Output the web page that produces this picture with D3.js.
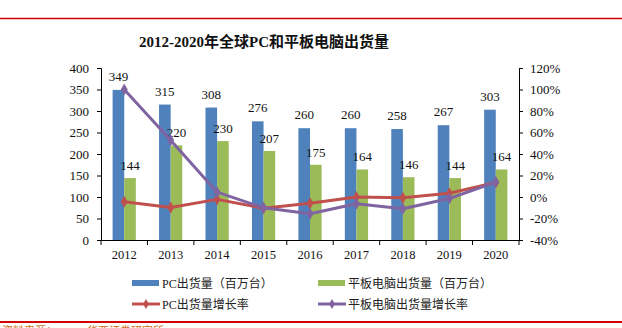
<!DOCTYPE html>
<html><head><meta charset="utf-8">
<script src="https://cdn.jsdelivr.net/npm/d3@7"></script>
<style>
body{margin:0;background:#fff;}
svg{display:block;}
</style></head>
<body>
<svg id="c" width="622" height="328"></svg>
<script>
const years = ["2012","2013","2014","2015","2016","2017","2018","2019","2020"];
const pcShip = [349,315,308,276,260,260,258,267,303];
const tabShip = [144,220,230,207,175,164,146,144,164];
const pcGrowth = [-4.4,-9.7,-2.2,-10.4,-5.8,0,-0.8,3.5,13.5];
const tabGrowth = [100,52.8,4.5,-10,-15.5,-6.3,-11,-1.4,13.9];
const leftTicks = [0,50,100,150,200,250,300,350,400];
const rightTicks = [-40,-20,0,20,40,60,80,100,120];
const legendNames = ["PC出货量（百万台）","平板电脑出货量（百万台）","PC出货量增长率","平板电脑出货量增长率"];
const titleText = "2012-2020年全球PC和平板电脑出货量";

const C = {blue:"#4F81BD", green:"#9BBB59", red:"#C0504D", purple:"#8064A2"};
const serif = "'Liberation Serif','Times New Roman','Noto Sans CJK SC',serif";
const cjk = "'Liberation Serif','Noto Sans CJK SC',sans-serif";

const svg = d3.select("#c");
const L = 101, R = 519, T = 68, B = 240;

// red rules
svg.append("line").attr("x1",0).attr("x2",622).attr("y1",18.5).attr("y2",18.5).attr("stroke","#d40000").attr("stroke-width",1.5);
svg.append("line").attr("x1",0).attr("x2",622).attr("y1",322).attr("y2",322).attr("stroke","#d40000").attr("stroke-width",2);

svg.append("text").attr("x",264).attr("y",47).attr("text-anchor","middle")
  .attr("font-family",serif).attr("font-weight","bold").attr("font-size",15).attr("fill","#111").text(titleText);

const x = d3.scaleBand().domain(years).range([L,R]);
const yL = d3.scaleLinear().domain([0,400]).range([B,T]);
const yR = d3.scaleLinear().domain([-40,120]).range([B,T]);
const bw = x.bandwidth()*0.25;

// bars
const g = svg.append("g");
g.selectAll(".pc").data(years).join("rect")
  .attr("x",d=>x(d)+x.bandwidth()/2-bw).attr("width",bw)
  .attr("y",(d,i)=>yL(pcShip[i])).attr("height",(d,i)=>B-yL(pcShip[i])).attr("fill",C.blue);
g.selectAll(".tb").data(years).join("rect")
  .attr("x",d=>x(d)+x.bandwidth()/2).attr("width",bw)
  .attr("y",(d,i)=>yL(tabShip[i])).attr("height",(d,i)=>B-yL(tabShip[i])).attr("fill",C.green);

// value labels
g.selectAll(".pcl").data(years).join("text")
  .attr("x",d=>x(d)+x.bandwidth()/2-bw/2).attr("y",(d,i)=>yL(pcShip[i])-9)
  .attr("text-anchor","middle").attr("font-family",serif).attr("font-size",13).attr("fill","#111")
  .text((d,i)=>pcShip[i]);
g.selectAll(".tbl").data(years).join("text")
  .attr("x",d=>x(d)+x.bandwidth()/2+bw/2).attr("y",(d,i)=>yL(tabShip[i])-8)
  .attr("text-anchor","middle").attr("font-family",serif).attr("font-size",13).attr("fill","#111")
  .text((d,i)=>tabShip[i]);

// lines
const cx = d=>x(d)+x.bandwidth()/2;
function drawLine(vals,color){
  const line = d3.line().x((d,i)=>cx(years[i])).y(d=>yR(d));
  svg.append("path").datum(vals).attr("d",line).attr("fill","none").attr("stroke",color).attr("stroke-width",3).attr("stroke-linejoin","round");
  svg.selectAll(null).data(vals).join("path")
    .attr("d",d3.symbol(d3.symbolDiamond,42)())
    .attr("transform",(d,i)=>`translate(${cx(years[i])},${yR(d)})`).attr("fill",color);
}
drawLine(pcGrowth,C.red);
drawLine(tabGrowth,C.purple);

// axes
const axL = svg.append("g").attr("transform",`translate(${L},0)`)
  .call(d3.axisLeft(yL).tickValues(leftTicks).tickSize(4).tickPadding(8));
const axR = svg.append("g").attr("transform",`translate(${R},0)`)
  .call(d3.axisRight(yR).tickValues(rightTicks).tickSize(4).tickPadding(7).tickFormat(d=>d+"%"));
const axB = svg.append("g").attr("transform",`translate(0,${B})`)
  .call(d3.axisBottom(x).tickSize(0).tickPadding(10));
// boundary ticks
svg.selectAll(".bt").data(d3.range(years.length+1)).join("line")
  .attr("x1",i=>L+i*x.step()).attr("x2",i=>L+i*x.step()).attr("y1",B).attr("y2",B+5).attr("stroke","#000");
[axL,axR,axB].forEach(a=>{
  a.selectAll("path").attr("stroke","#000");
  a.selectAll("line").attr("stroke","#000");
  a.selectAll("text").attr("font-family",serif).attr("font-size",13).attr("fill","#111");
});
axB.selectAll("text").attr("font-size",12.5);

// legend
const lg = svg.append("g").attr("font-family",cjk).attr("font-size",12).attr("fill","#222");
const pos = [[132,283],[318,283],[132,304],[318,304]];
const cols = [C.blue,C.green,C.red,C.purple];
legendNames.forEach((n,i)=>{
  const [px,py]=pos[i];
  if(i<2){
    lg.append("rect").attr("x",px).attr("y",py-3).attr("width",27).attr("height",6).attr("fill",cols[i]);
  } else {
    lg.append("line").attr("x1",px).attr("x2",px+28).attr("y1",py).attr("y2",py).attr("stroke",cols[i]).attr("stroke-width",3);
    lg.append("path").attr("d",d3.symbol(d3.symbolDiamond,30)()).attr("transform",`translate(${px+14},${py})`).attr("fill",cols[i]);
  }
  lg.append("text").attr("x",px+30).attr("y",py+4.5).text(n);
});

// source note (cut off at the bottom edge in the reference)
svg.append("text").attr("x",2).attr("y",335).attr("font-family",cjk).attr("font-size",11).attr("fill","#d07020")
  .text("资料来源：IDC，华西证券研究所");
</script>
</body></html>
